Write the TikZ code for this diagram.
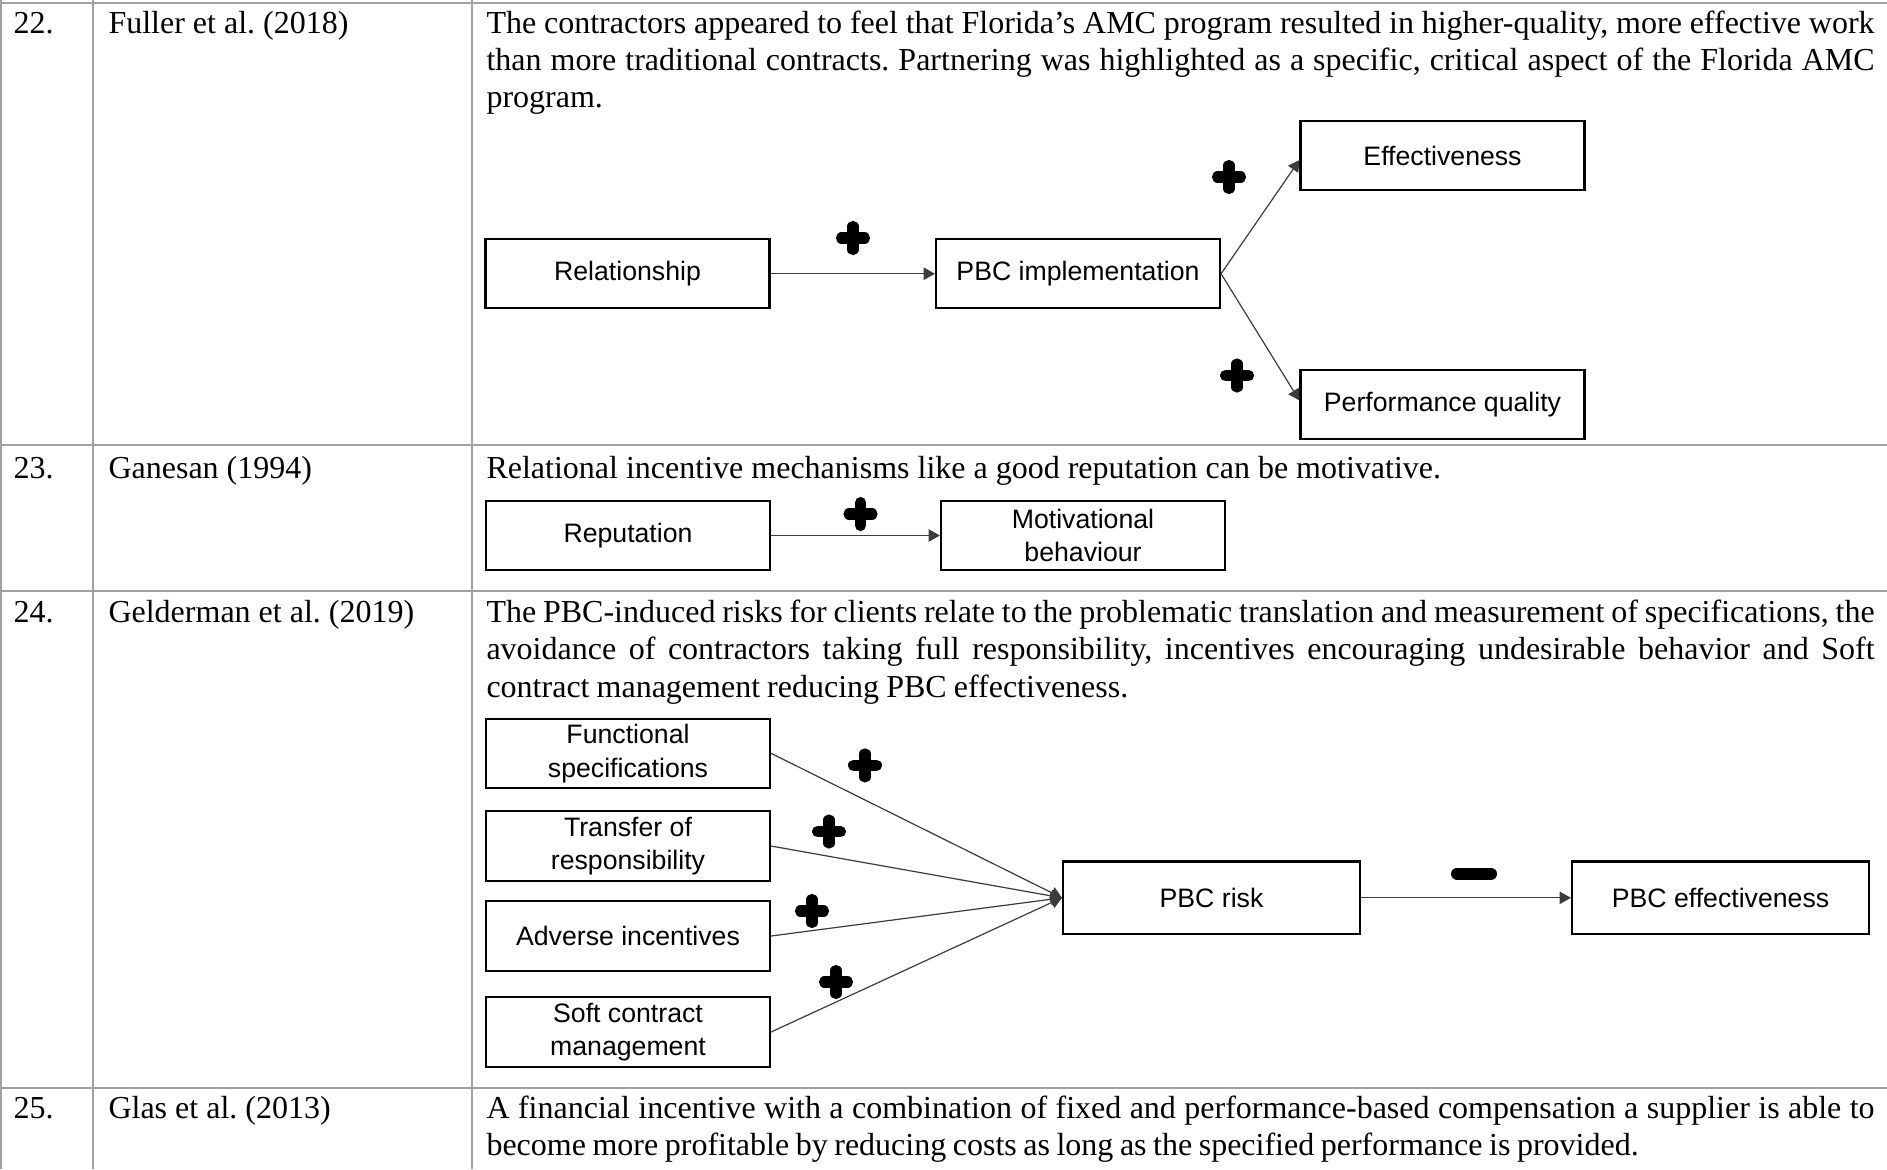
\documentclass[tikz,border=0pt]{standalone}
\usepackage{fontspec}
\setmainfont{Liberation Serif}
\newfontfamily\boxfont{Liberation Sans}
\usetikzlibrary{arrows.meta}
\definecolor{rulegray}{RGB}{160,160,160}
\definecolor{linkgray}{RGB}{60,60,60}
% one fully justified line of the description column
\newcommand\justline[1]{\hbox to 520.5pt{\spaceskip=3pt plus 4pt minus 2.2pt\relax #1}}
% closing line of a paragraph with a given word spacing
\newcommand\lastline[2]{\hbox{\spaceskip=#1\relax #2}}

\begin{document}
\begin{tikzpicture}[x=0.375pt,y=-0.375pt,
  tablerule/.style={draw=rulegray,line width=0.95pt},
  cell/.style={anchor=base west,inner sep=0pt,font=\fontsize{12}{14}\selectfont\frenchspacing},
  para/.style={anchor=base west,inner sep=0pt,text width=520.5pt,align=left,
    font=\fontsize{12}{14}\selectfont\frenchspacing},
  factor/.style={draw=black,line width=0.8pt,minimum width=106.5pt,minimum height=26pt,
    inner sep=1pt,align=center,font=\boxfont\fontsize{10}{12.6}\selectfont},
  widefactor/.style={factor,minimum width=111.4pt,minimum height=27.2pt},
  link/.style={draw=linkgray,line width=0.45pt,-{Triangle[length=4.2pt,width=4.6pt]}},
  pics/plussign/.style={code={
    \draw[line width=4.2pt,line cap=round] (-11.5,0) -- (11.5,0) (0,-11.5) -- (0,11.5);}},
  pics/minussign/.style={code={
    \draw[line width=4.5pt,line cap=round] (-17,0) -- (17,0);}}
]
\useasboundingbox[fill=white] (0,0) rectangle (1887,1169);

% table rules
\draw[tablerule] (0,3) -- (1887,3);
\draw[tablerule] (0,445) -- (1887,445);
\draw[tablerule] (0,591) -- (1887,591);
\draw[tablerule] (0,1088) -- (1887,1088);
\draw[tablerule] (1,0) -- (1,1169);
\draw[tablerule] (93,0) -- (93,1169);
\draw[tablerule] (472,0) -- (472,1169);

% numbers and references
\node[cell] (n22) at (13,33) {22.};
\node[cell] (r22) at (108,33) {Fuller et al. (2018)};
\node[cell] (n23) at (13,478) {23.};
\node[cell] (r23) at (108,478) {Ganesan (1994)};
\node[cell] (n24) at (13,622.5) {24.};
\node[cell] (r24) at (108,622.5) {Gelderman et al. (2019)};
\node[cell] (n25) at (13,1118.5) {25.};
\node[cell] (r25) at (108,1118.5) {Glas et al. (2013)};

% descriptions
\node[para] (t22) at (486,33) {%
\justline{The contractors appeared to feel that Florida’s AMC program resulted in higher-quality, more effective work}
\justline{than more traditional contracts. Partnering was highlighted as a specific, critical aspect of the Florida AMC}
\hbox{program.}};
\node[cell] (t23) at (486,478) {Relational incentive mechanisms like a good reputation can be motivative.};
\node[para] (t24) at (486,622.5) {%
\justline{The PBC-induced risks for clients relate to the problematic translation and measurement of specifications, the}
\justline{avoidance of contractors taking full responsibility, incentives encouraging undesirable behavior and Soft}
\lastline{2.65pt}{contract management reducing PBC effectiveness.}};
\node[para] (t25) at (486,1118.5) {%
\justline{A financial incentive with a combination of fixed and performance-based compensation a supplier is able to}
\lastline{2.45pt}{become more profitable by reducing costs as long as the specified performance is provided.}};

% row 22 model
\node[factor] (rel) at (627.5,273.75) {Relationship};
\node[factor] (pbci) at (1078,273.75) {PBC implementation};
\node[factor] (eff) at (1442.5,155.75) {Effectiveness};
\node[factor] (perf) at (1442.5,404.75) {Performance quality};
\draw[link] (rel.east) -- (pbci.west);
\draw[link] (pbci.east) -- ([yshift=-1.6pt]eff.west);
\draw[link] (pbci.east) -- ([yshift=1.6pt]perf.west);
\pic at (853,238) {plussign};
\pic at (1229,177) {plussign};
\pic at (1237,375.5) {plussign};

% row 23 model
\node[factor] (rep) at (628,535.5) {Reputation};
\node[factor] (mot) at (1083,535.5) {Motivational\\behaviour};
\draw[link] (rep.east) -- (mot.west);
\pic at (860.5,514) {plussign};

% row 24 model
\node[factor] (func) at (628,753.3) {Functional\\specifications};
\node[factor] (trans) at (628,846) {Transfer of\\responsibility};
\node[factor] (adv) at (628,936) {Adverse incentives};
\node[factor] (soft) at (628,1032) {Soft contract\\management};
\node[widefactor] (risk) at (1211.5,897.8) {PBC risk};
\node[widefactor] (peff) at (1720.5,897.8) {PBC effectiveness};
\draw[link] (func.east) -- (risk.west);
\draw[link] (trans.east) -- (risk.west);
\draw[link] (adv.east) -- (risk.west);
\draw[link] (soft.east) -- (risk.west);
\draw[link] (risk.east) -- (peff.west);
\pic at (865,765.4) {plussign};
\pic at (829,831.5) {plussign};
\pic at (812,911) {plussign};
\pic at (836,982) {plussign};
\pic at (1474,873.7) {minussign};
\end{tikzpicture}
\end{document}
